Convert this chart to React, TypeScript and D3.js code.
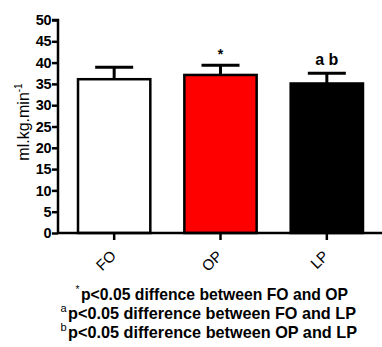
import React, { useEffect, useRef } from "react";
import * as d3 from "d3";

const groups = ["FO", "OP", "LP"];
const means = [36.1, 37.1, 35.1];
const sems = [2.8, 2.3, 2.4];
const fills = ["#ffffff", "#ff0000", "#000000"];
const marks = ["", "*", "a b"];
const yTicks = [0, 5, 10, 15, 20, 25, 30, 35, 40, 45, 50];
const notes = [
  { sup: "*", text: "p<0.05 diffence between FO and OP" },
  { sup: "a", text: "p<0.05 difference between FO and LP" },
  { sup: "b", text: "p<0.05 difference between OP and LP" },
];

const W = 382;
const H = 347;
const font = "'Liberation Sans', Arial, sans-serif";

const App = () => {
  const ref = useRef<SVGSVGElement>(null);

  useEffect(() => {
    const svg = d3.select(ref.current);
    svg.selectAll("*").remove();

    const left = 58;
    const right = 382;
    const top = 20;
    const bottom = 233;

    const x = d3.scaleBand().domain(groups).range([left + 3, 380]).paddingInner(0.32).paddingOuter(0.16);
    const y = d3.scaleLinear().domain([0, 50]).range([bottom, top]);

    const g = svg.append("g");

    // bars + error bars
    groups.forEach((name, i) => {
      g.append("rect")
        .attr("x", x(name)!)
        .attr("y", y(means[i]))
        .attr("width", x.bandwidth())
        .attr("height", bottom - y(means[i]))
        .attr("fill", fills[i])
        .attr("stroke", "#000")
        .attr("stroke-width", 2.5);

      const cx = x(name)! + x.bandwidth() / 2;
      const topE = y(means[i] + sems[i]);
      g.append("line")
        .attr("x1", cx).attr("x2", cx)
        .attr("y1", y(means[i])).attr("y2", topE)
        .attr("stroke", "#000").attr("stroke-width", 3);
      g.append("line")
        .attr("x1", cx - 19).attr("x2", cx + 19)
        .attr("y1", topE).attr("y2", topE)
        .attr("stroke", "#000").attr("stroke-width", 3);

      if (marks[i]) {
        g.append("text")
          .attr("x", cx)
          .attr("y", marks[i] === "*" ? topE - 6 : topE - 8)
          .attr("text-anchor", "middle")
          .attr("font-family", font)
          .attr("font-weight", "bold")
          .attr("font-size", marks[i] === "*" ? 14 : 16)
          .text(marks[i]);
      }
    });

    // y axis
    const yAxis = g.append("g").attr("transform", `translate(${left},0)`)
      .call(d3.axisLeft(y).tickValues(yTicks).tickSize(6).tickPadding(1));
    yAxis.select(".domain").attr("stroke-width", 2.5).attr("d", `M-6,${top}H0V${bottom}`);
    yAxis.selectAll(".tick line").attr("stroke-width", 2.5);
    yAxis.selectAll(".tick text")
      .attr("font-family", font)
      .attr("font-size", 14.5)
      .attr("font-weight", "bold")
      .attr("letter-spacing", -0.5)
      .attr("fill", "#000");

    // x axis
    const xAxis = g.append("g").attr("transform", `translate(0,${bottom})`)
      .call(d3.axisBottom(x).tickSize(7).tickSizeOuter(0));
    xAxis.select(".domain").attr("stroke-width", 2.5).attr("d", `M${left},0H${right}`);
    xAxis.selectAll(".tick line").attr("stroke-width", 2.5);
    xAxis.selectAll(".tick text")
      .attr("font-family", font)
      .attr("font-size", 15)
      .attr("fill", "#000")
      .attr("text-anchor", "end")
      .attr("dy", 0)
      .attr("y", 0)
      .attr("x", 0)
      .attr("transform", "translate(0,21) rotate(-45)")
      .attr("dominant-baseline", "middle");

    // y label
    const yl = g.append("text")
      .attr("transform", "translate(29,122) rotate(-90)")
      .attr("text-anchor", "middle")
      .attr("font-family", font)
      .attr("font-size", 16)
      .attr("fill", "#000");
    yl.append("tspan").text("ml.kg.min");
    yl.append("tspan").attr("font-size", 10).attr("dy", -7).text("-1");

    // footnotes
    const starts = [81, 68, 68];
    const lens = [267, 288, 289];
    notes.forEach((n, i) => {
      const base = 300 + i * 19;
      g.append("text")
        .attr("x", starts[i] - 1.5)
        .attr("y", base - 7)
        .attr("text-anchor", "end")
        .attr("font-family", font)
        .attr("font-size", i === 0 ? 10 : 11)
        .attr("fill", "#000")
        .text(n.sup);
      g.append("text")
        .attr("x", starts[i])
        .attr("y", base)
        .attr("font-family", font)
        .attr("font-size", 16.5)
        .attr("font-weight", "bold")
        .attr("textLength", lens[i])
        .attr("lengthAdjust", "spacingAndGlyphs")
        .attr("fill", "#000")
        .text(n.text);
    });
  }, []);

  return (
    <svg ref={ref} width={W} height={H} style={{ position: "absolute", left: 0, top: 0, background: "#fff" }} />
  );
};

export default App;
